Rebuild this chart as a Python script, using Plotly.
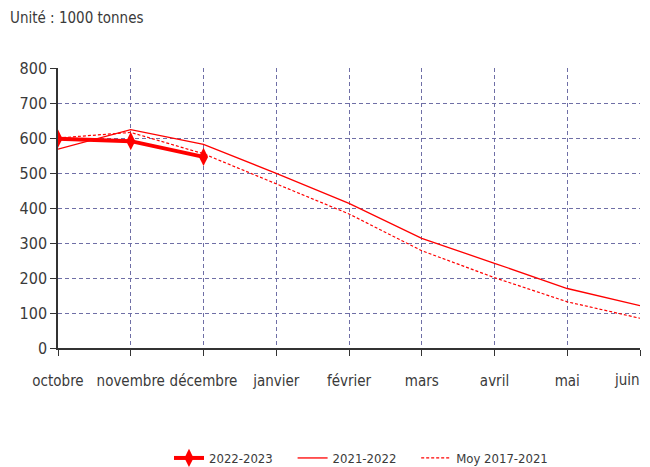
import plotly.graph_objects as go

months = ["octobre", "novembre", "décembre", "janvier", "février", "mars", "avril", "mai", "juin"]
s2022_2023 = [598, 591, 546]
s2021_2022 = [568, 624, 582, 499, 413, 313, 242, 170, 121]
moy_2017_2021 = [600, 616, 555, 470, 383, 278, 201, 132, 85]
y_ticks = [0, 100, 200, 300, 400, 500, 600, 700, 800]

font_fam = "DejaVu Sans Condensed, Liberation Sans Narrow, Arial Narrow, sans-serif"
grid_col = "#6f6fa6"
txt_col = "#3a3a3a"
pad = "\u00a0" * 4

x_all = list(range(len(months)))
last = len(months) - 1
tick_text = months[:-1] + [""]  # last label drawn as annotation so it stays inside the page

fig = go.Figure()
fig.add_trace(go.Scatter(
    x=x_all[:len(s2022_2023)], y=s2022_2023, name="2022-2023" + pad, mode="lines+markers",
    line=dict(color="#ff0000", width=4), marker=dict(symbol="diamond-tall", size=13, color="#ff0000")))
fig.add_trace(go.Scatter(
    x=x_all, y=s2021_2022, name="2021-2022" + pad, mode="lines",
    line=dict(color="#ff0000", width=1.3)))
fig.add_trace(go.Scatter(
    x=x_all, y=moy_2017_2021, name="Moy 2017-2021", mode="lines",
    line=dict(color="#ff0000", width=1.2, dash="3px,2px")))

fig.update_layout(
    width=642, height=459,
    margin=dict(l=50, r=10, t=60, b=119, autoexpand=False),
    paper_bgcolor="white", plot_bgcolor="white",
    font=dict(family=font_fam, color=txt_col, size=16),
    showlegend=True,
    legend=dict(orientation="h", x=0.5 + 12/582, xanchor="center", y=-110/280, yanchor="middle",
                font=dict(size=13, family=font_fam, color=txt_col),
                traceorder="normal"),
    annotations=[
        dict(text="Unité : 1000 tonnes", xref="paper", yref="paper",
             x=-50/582, y=1 + 50/280, xanchor="left", yanchor="middle",
             showarrow=False, font=dict(size=15, family=font_fam, color=txt_col)),
        dict(text=months[last], xref="x", yref="paper", x=last, y=-32/280,
             xanchor="right", yanchor="middle", xshift=2, showarrow=False,
             font=dict(size=15, family=font_fam, color=txt_col)),
    ],
)
fig.update_xaxes(
    range=[0, last], tickmode="array", tickvals=x_all, ticktext=tick_text,
    showgrid=True, gridcolor=grid_col, griddash="4px,3px", gridwidth=1,
    showline=True, linecolor="#333333", linewidth=1.5, mirror=False,
    ticks="outside", ticklen=6, tickcolor="#333333", zeroline=False,
    tickangle=0, automargin=False, ticklabelstandoff=12, tickfont=dict(size=15))
fig.update_yaxes(
    range=[0, 800], tickmode="array", tickvals=y_ticks,
    showgrid=True, gridcolor=grid_col, griddash="4px,3px", gridwidth=1,
    showline=True, linecolor="#333333", linewidth=1.5,
    ticks="outside", ticklen=6, tickcolor="#333333", zeroline=False,
    automargin=False, tickfont=dict(size=16))

fig.write_html("out.html")
